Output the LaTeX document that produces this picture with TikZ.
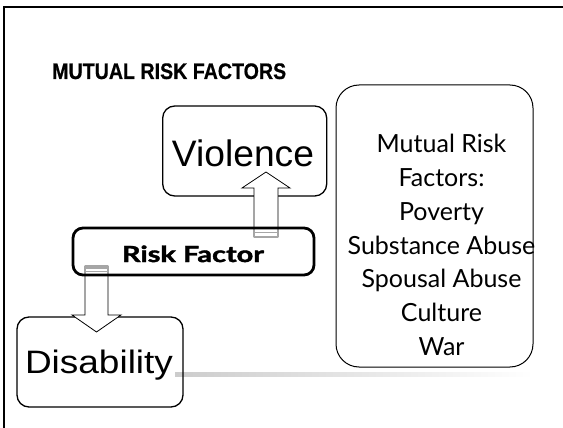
\documentclass[tikz,border=0pt]{standalone}
\usepackage{fontspec}
\usepackage{graphicx}
\setmainfont{Liberation Sans}
\newfontfamily\gill{Lato}
\newfontfamily\gillb[BoldFeatures={FakeBold=1.6}]{Lato}
\newfontfamily\titlefont[BoldFeatures={FakeBold=0.6}]{Liberation Sans}
\begin{document}
\begin{tikzpicture}[x=1pt,y=-1pt,
  rbox/.style={draw=black, rounded corners=12pt, line width=1.3pt, inner sep=0pt},
  blockarrow/.style={draw=black, fill=white, line width=0.8pt, line join=miter},
  stripe/.style={draw=gray!70, line width=1pt},
  listline/.style={anchor=base, inner sep=0pt, font=\gill\fontsize{25}{28}\selectfont},
  txt/.style={anchor=base, inner sep=0pt}]
\useasboundingbox (0,0) rectangle (563,428);
\fill[white] (0,0) rectangle (563,428);
% slide frame
\draw[line width=2pt] (3.5,428) -- (3.5,7.3) -- (563,7.3);
% title
\node[anchor=base west, inner sep=0pt] (title) at (52,79)
  {\titlefont\fontsize{22}{24}\selectfont\bfseries\resizebox{234pt}{15.7pt}{MUTUAL RISK FACTORS}};
% shadow rule
\shade[left color=gray!40, right color=white] (175,372) rectangle (533,376);
% boxes
\node[rbox, minimum width=164pt, minimum height=90pt] (vio) at (244.7,151) {};
\node[txt] (viot) at (243,166) {\fontsize{37}{40}\selectfont\resizebox{142pt}{26.7pt}{Violence}};
\node[rbox, minimum width=166pt, minimum height=90pt] (dis) at (100,362) {};
\node[txt] (dist) at (99,373.3) {\fontsize{33}{36}\selectfont\resizebox{148pt}{23.5pt}{Disability}};
% block arrows
\draw[blockarrow] (254,237) -- (254,188) -- (242,188) -- (266,172) -- (290,188) -- (278,188) -- (278,237) -- cycle;
\draw[stripe] (254,232) -- (278,232);
\draw[stripe] (254,236) -- (278,236);
\draw[blockarrow] (85,266) -- (85,315) -- (72,315) -- (96.5,332) -- (121,315) -- (108,315) -- (108,266) -- cycle;
\fill[gray!70] (85,266) rectangle (108,268.5);
\draw[stripe] (85,271.5) -- (108,271.5);
% risk factor box
\node[rbox, rounded corners=10pt, line width=2.8pt, minimum width=241pt, minimum height=47pt] (risk) at (193.5,251.5) {};
\node[txt] (riskt) at (193,262) {\gillb\fontsize{22}{24}\selectfont\bfseries\resizebox{142pt}{16.5pt}{Risk Factor}};
% mutual risk factors list
\node[rbox, rounded corners=23pt, line width=1pt, minimum width=197pt, minimum height=282pt] (list) at (434.5,226) {};
\node[listline] (l1) at (441.5,153) {Mutual Risk};
\node[listline] (l2) at (441.5,186.7) {Factors:};
\node[listline] (l3) at (441.5,220.4) {Poverty};
\node[listline] (l4) at (441.5,254.1) {Substance Abuse};
\node[listline] (l5) at (441.5,287.8) {Spousal Abuse};
\node[listline] (l6) at (441.5,321.5) {Culture};
\node[listline] (l7) at (441.5,355.2) {War};
\end{tikzpicture}
\end{document}
